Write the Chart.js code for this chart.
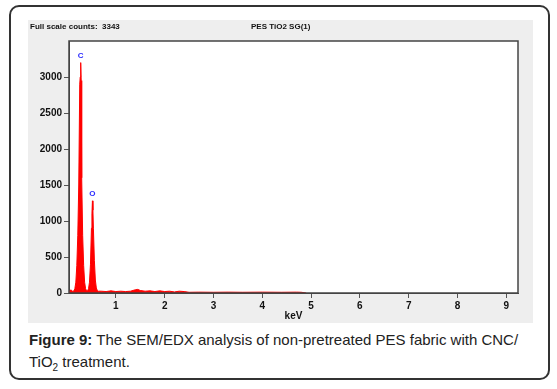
<!DOCTYPE html>
<html>
<head>
<meta charset="utf-8">
<script src="https://cdn.jsdelivr.net/npm/chart.js@4/dist/chart.umd.min.js"></script>
<style>
  body { margin: 0; width: 557px; height: 389px; background: #fff; position: relative; overflow: hidden; }
  #box { position: absolute; left: 9px; top: 5px; width: 537px; height: 371px; border: 2px solid #333; border-radius: 10px; }
  #panel { position: absolute; left: 28px; top: 20px; width: 505px; height: 303px; background: #eeeeee; }
  #panel canvas { position: absolute; left: 0; top: 0; }
  .hdr { position: absolute; top: 2px; font: bold 8px "Liberation Sans", Arial, sans-serif; color: #111; white-space: pre; }
  #caption { position: absolute; left: 29px; top: 329px; width: 510px; font: 15px "Liberation Sans", Arial, sans-serif; line-height: 22px; color: #222; }
  #caption sub { font-size: 10px; line-height: 0; }
</style>
</head>
<body>
<div id="box"></div>
<div id="panel">
  <canvas id="edxChart" width="505" height="303"></canvas>
  <div class="hdr" style="left:2px">Full scale counts:  3343</div>
  <div class="hdr" style="left:223px">PES TiO2 SG(1)</div>
</div>
<div id="caption"><b>Figure 9:</b> The SEM/EDX analysis of non-pretreated PES fabric with CNC/ TiO<sub>2</sub> treatment.</div>

<script>
// spectrum (keV, counts)
const energy = [0.02, 0.04, 0.06, 0.08, 0.10, 0.12, 0.14, 0.16, 0.18, 0.20, 0.22, 0.24, 0.26, 0.27, 0.28, 0.29, 0.30,
                0.32, 0.34, 0.36, 0.38, 0.40, 0.42, 0.44, 0.46, 0.48, 0.50, 0.51, 0.52, 0.53, 0.54, 0.56, 0.58, 0.60,
                0.62, 0.64, 0.70, 0.80, 0.90, 1.00, 1.10, 1.20, 1.30, 1.40, 1.45, 1.50, 1.60, 1.70, 1.80, 1.90, 2.00,
                2.10, 2.20, 2.30, 2.40, 2.50, 2.70, 3.00, 3.30, 3.60, 4.00, 4.40, 4.70, 4.80, 4.90];
const counts = [10, 30, 20, 45, 30, 20, 30, 60, 150, 380, 800, 1500, 2900, 3000, 3200, 2950, 1600,
                800, 380, 150, 60, 30, 30, 60, 150, 400, 900, 1100, 1280, 1150, 900, 450, 180, 70,
                35, 25, 25, 20, 30, 20, 25, 20, 25, 45, 50, 35, 25, 30, 20, 30, 20,
                25, 15, 25, 20, 10, 12, 10, 12, 10, 12, 10, 12, 10, 0];

// element markers
const peakNames = ["C", "O"];
const peakEnergy = [0.28, 0.52];
const peakCounts = [3200, 1280];

const xTicks = [1, 2, 3, 4, 5, 6, 7, 8, 9];
const yTicks = [0, 500, 1000, 1500, 2000, 2500, 3000];

const frame = {
    id: "frame",
    beforeDraw(chart) {
        const { ctx, chartArea: a } = chart;
        ctx.save();
        ctx.fillStyle = "#ffffff";
        ctx.fillRect(a.left, a.top, a.right - a.left, a.bottom - a.top);
        ctx.restore();
    },
    afterDatasetsDraw(chart) {
        const { ctx, chartArea: a, scales } = chart;
        ctx.save();
        ctx.strokeStyle = "#444";
        ctx.lineWidth = 1.5;
        ctx.strokeRect(a.left, a.top, a.right - a.left, a.bottom - a.top);
        ctx.fillStyle = "#2b2bff";
        ctx.font = "bold 8px 'Liberation Sans', Arial, sans-serif";
        ctx.textAlign = "center";
        ctx.textBaseline = "bottom";
        peakNames.forEach((n, i) => {
            const x = scales.x.getPixelForValue(peakEnergy[i]);
            const y = scales.y.getPixelForValue(peakCounts[i]);
            ctx.fillText(n, x, y - 3);
        });
        ctx.restore();
    }
};

const tickFont = { family: "'Liberation Sans', Arial, sans-serif", size: 10, weight: "bold" };

new Chart(document.getElementById("edxChart").getContext("2d"), {
    type: "line",
    data: {
        datasets: [{
            data: energy.map((e, i) => ({ x: e, y: counts[i] })),
            borderColor: "#ff0000",
            backgroundColor: "#ff0000",
            borderWidth: 1,
            pointRadius: 0,
            tension: 0,
            fill: "origin"
        }]
    },
    options: {
        responsive: false,
        animation: false,
        layout: { padding: { top: 21, right: 15, left: 0, bottom: 0 } },
        plugins: { legend: { display: false }, tooltip: { enabled: false } },
        scales: {
            x: {
                type: "linear",
                min: 0.04,
                max: 9.24,
                afterBuildTicks: s => { s.ticks = xTicks.map(v => ({ value: v })); },
                afterFit: s => { s.height = 30; },
                ticks: { font: tickFont, color: "#111", padding: 2, maxRotation: 0, callback: v => String(v) },
                grid: { drawOnChartArea: false, tickLength: 5, color: "#555" },
                border: { color: "#444" },
                title: { display: true, text: "keV", font: tickFont, color: "#111", padding: { top: 0, bottom: 1 } }
            },
            y: {
                min: 0,
                max: 3500,
                afterBuildTicks: s => { s.ticks = yTicks.map(v => ({ value: v })); },
                afterFit: s => { s.width = 41; },
                ticks: { font: tickFont, color: "#111", padding: 2, callback: v => String(v) },
                grid: { drawOnChartArea: false, tickLength: 5, color: "#555" },
                border: { color: "#444" }
            }
        }
    },
    plugins: [frame]
});
</script>
</body>
</html>
